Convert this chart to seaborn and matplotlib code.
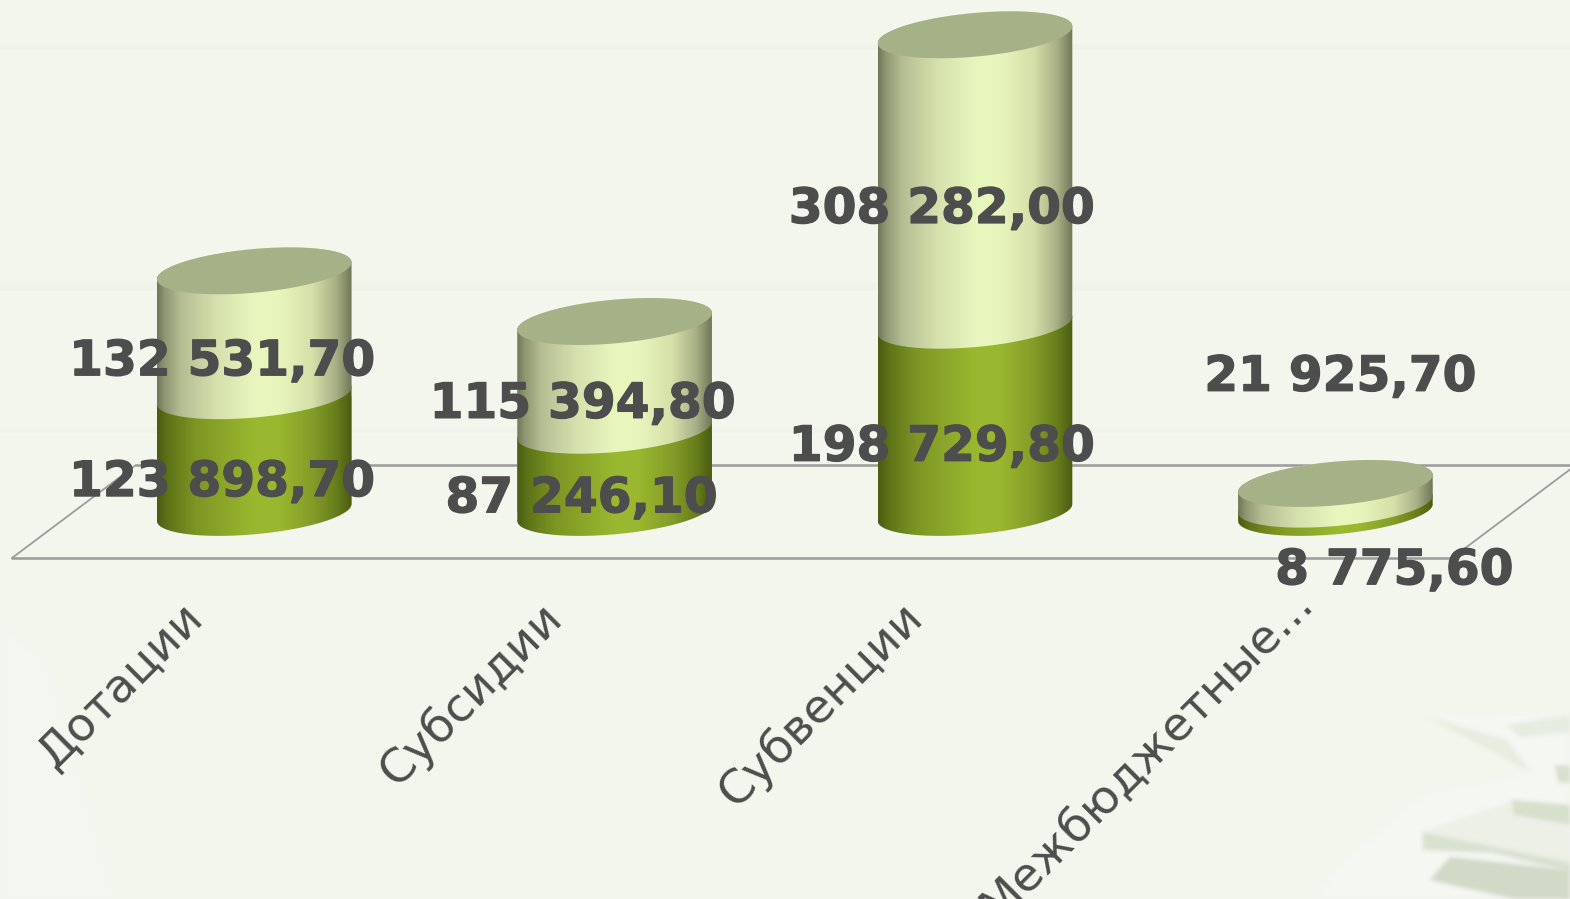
import numpy as np
import seaborn as sns
import matplotlib.pyplot as plt
import matplotlib.patheffects as pe
from matplotlib.colors import LinearSegmentedColormap
from matplotlib.path import Path
from matplotlib.patches import PathPatch, Polygon, Rectangle
from matplotlib.lines import Line2D
from matplotlib.transforms import Affine2D, ScaledTranslation

categories = ['Дотации', 'Субсидии', 'Субвенции', 'Межбюджетные...']
lower_values = [123898.70, 87246.10, 198729.80, 8775.60]
upper_values = [132531.70, 115394.80, 308282.00, 21925.70]
lower_labels = ['123 898,70', '87 246,10', '198 729,80', '8 775,60']
upper_labels = ['132 531,70', '115 394,80', '308 282,00', '21 925,70']

W, H = 1570, 899
BG = '#f3f6ed'
TXT = '#4d4d4d'

sns.set_theme(style='white')
plt.rcParams['font.family'] = ['DejaVu Sans']

fig = plt.figure(figsize=(W / 100, H / 100), dpi=100, facecolor=BG)
# pixel coords with y going down, for the backdrop and the floor
px = Affine2D().scale(1 / W, -1 / H).translate(0, 1) + fig.transFigure


def box_blur(a, r):
    out = np.zeros_like(a)
    for k in range(-r, r + 1):
        out += np.roll(a, k, axis=0)
    a = out / (2 * r + 1)
    out = np.zeros_like(a)
    for k in range(-r, r + 1):
        out += np.roll(a, k, axis=1)
    return out / (2 * r + 1)


def soft(img, dpi):
    # the backdrop picture is blurry, so blur the alpha of each shape
    pad = 14
    out = np.pad(img, ((pad, pad), (pad, pad), (0, 0)))
    mask = out[..., 3] > 0.5
    if mask.any():
        out[..., :3] = out[mask][:, :3].mean(axis=0)
    out[..., 3] = box_blur(box_blur(out[..., 3], 2), 2)
    return out, -pad, -pad


# backdrop
for y0, y1 in [(44, 50), (282, 291), (427, 433)]:
    fig.add_artist(Rectangle((0, y0), W, y1 - y0, transform=px, color='#f0f3ea', lw=0, zorder=-5))
papers = [
    ([(0, 620), (50, 660), (120, 899), (0, 899)], '#f5f7f1'),
    ([(1430, 714), (1570, 712), (1570, 899), (1310, 899), (1340, 860), (1425, 790), (1530, 770)], '#f5f8f2'),
    ([(1427, 717), (1507, 740), (1530, 772)], '#e9eee1'),
    ([(1507, 725), (1570, 715), (1570, 732), (1520, 737)], '#e8ede1'),
    ([(1423, 832), (1512, 802), (1513, 815), (1570, 825), (1570, 863)], '#edf0e7'),
    ([(1555, 765), (1570, 766), (1570, 783), (1558, 782)], '#d8dfcd'),
    ([(1512, 800), (1570, 805), (1570, 825), (1513, 815)], '#d8dfcd'),
    ([(1423, 832), (1570, 862), (1570, 872), (1493, 853), (1423, 850)], '#dbe1d1'),
    ([(1450, 857), (1570, 870), (1570, 899), (1515, 899), (1430, 880)], '#d2d9c7'),
]
for pts, col in papers:
    fig.add_artist(Polygon(pts, transform=px, color=col, lw=0, zorder=-4, agg_filter=soft))

# floor of the 3D plot
for xs, ys, lw in [([12, 1452], [558, 558], 1.8), ([136, 1576], [465, 465], 1.8),
                   ([12, 136], [558, 465], 1.3), ([1452, 1576], [558, 465], 1.3)]:
    fig.add_artist(Line2D(xs, ys, transform=px, color='#9b9b9b', lw=lw, zorder=-3))

# axes run from the top of the picture down to the floor line
ax = fig.add_axes([0, 1 - 558 / H, 1, 558 / H])
ax.patch.set_visible(False)

BAR_W = 0.54
sns.barplot(x=categories, y=lower_values, color='#9ab82f', width=BAR_W, ax=ax)
n_low = len(ax.patches)
sns.barplot(x=categories, y=upper_values, bottom=lower_values, color='#e0ebb8', width=BAR_W, ax=ax)

PX_PER_VAL = 0.942 / 1000
ax.set_xlim(-254.2 / 360.4, (W - 254.2) / 360.4)
ax.set_ylim(-(558 - 512.4) / PX_PER_VAL, 512.4 / PX_PER_VAL)

SKEW = 8.5 / PX_PER_VAL
DEPTH = 21.9 / PX_PER_VAL


def arc(cx, v, t0, t1):
    t = np.linspace(t0, t1, 80)
    return np.column_stack([cx + BAR_W / 2 * np.cos(t), v + SKEW * np.cos(t) + DEPTH * np.sin(t)])


light_cmap = LinearSegmentedColormap.from_list('light', [
    (0, '#6f7858'), (0.04, '#8f9773'), (0.12, '#b4bc92'), (0.3, '#d5e0ad'), (0.5, '#e8f6bd'),
    (0.62, '#e8f6bd'), (0.8, '#d5dfa8'), (0.92, '#a8af86'), (1, '#6f7858')])
dark_cmap = LinearSegmentedColormap.from_list('dark', [
    (0, '#4a5c12'), (0.06, '#5f7518'), (0.2, '#7d9624'), (0.5, '#9ab82f'), (0.62, '#9ab82f'),
    (0.8, '#849c28'), (0.92, '#677e1c'), (1, '#4a5c12')])
grad = np.linspace(0, 1, 256).reshape(1, -1)

xlim, ylim = ax.get_xlim(), ax.get_ylim()
for i, bar in enumerate(ax.patches):
    cx = bar.get_x() + bar.get_width() / 2
    v0, v1 = bar.get_y(), bar.get_y() + bar.get_height()
    # front arc at the foot, back arc at the head, the next part or the cap covers the rest
    verts = np.vstack([arc(cx, v0, np.pi, 2 * np.pi), arc(cx, v1, 0, np.pi)])
    clip = PathPatch(Path(np.vstack([verts, verts[:1]]), closed=True), transform=ax.transData,
                     fc='none', ec='none')
    bar.set_clip_path(clip)
    bar.set_linewidth(0)
    cmap = dark_cmap if i < n_low else light_cmap
    im = ax.imshow(grad, cmap=cmap, aspect='auto', extent=[cx - BAR_W / 2, cx + BAR_W / 2, v0 - 2 * DEPTH, v1 + 2 * DEPTH],
                   zorder=2 + (i >= n_low), interpolation='bilinear')
    im.set_clip_path(clip)
    if i >= n_low:
        ax.add_patch(Polygon(arc(cx, v1, 0, 2 * np.pi), closed=True, fc='#a7b188', ec='none', zorder=4))
ax.set_xlim(xlim)
ax.set_ylim(ylim)

# value labels, offsets in pixels from the middle of each part
low_off = [(-32, -28), (-33, -27), (-33, -28), (59, -62)]
up_off = [(-32, -28), (-32, -28), (-33, -29), (5, 117)]
stroke = [pe.withStroke(linewidth=0.9, foreground=TXT)]
for i, cat in enumerate(categories):
    mid_low = lower_values[i] / 2
    mid_up = lower_values[i] + upper_values[i] / 2
    ax.annotate(lower_labels[i], (i, mid_low), xytext=low_off[i], textcoords='offset pixels', ha='center',
                va='center', fontsize=35, fontweight='bold', color=TXT, zorder=6, path_effects=stroke)
    ax.annotate(upper_labels[i], (i, mid_up), xytext=up_off[i], textcoords='offset pixels', ha='center',
                va='center', fontsize=35, fontweight='bold', color=TXT, zorder=6, path_effects=stroke)

# category labels
tick_shift = [(-74, 0), (-76, 0), (-76, 0), (-46, 15)]
ax.tick_params(axis='x', length=0, pad=26)
ax.set_xticks(range(len(categories)))
ax.set_xticklabels(categories, rotation=45, ha='right', rotation_mode='anchor', fontsize=33.6, color=TXT)
for lab, (dx, dy) in zip(ax.get_xticklabels(), tick_shift):
    lab.set_transform(lab.get_transform() + ScaledTranslation(dx / 100, dy / 100, fig.dpi_scale_trans))
ax.set_yticks([])
sns.despine(ax=ax, left=True, bottom=True)

fig.savefig('out.png', dpi=100, facecolor=fig.get_facecolor())
